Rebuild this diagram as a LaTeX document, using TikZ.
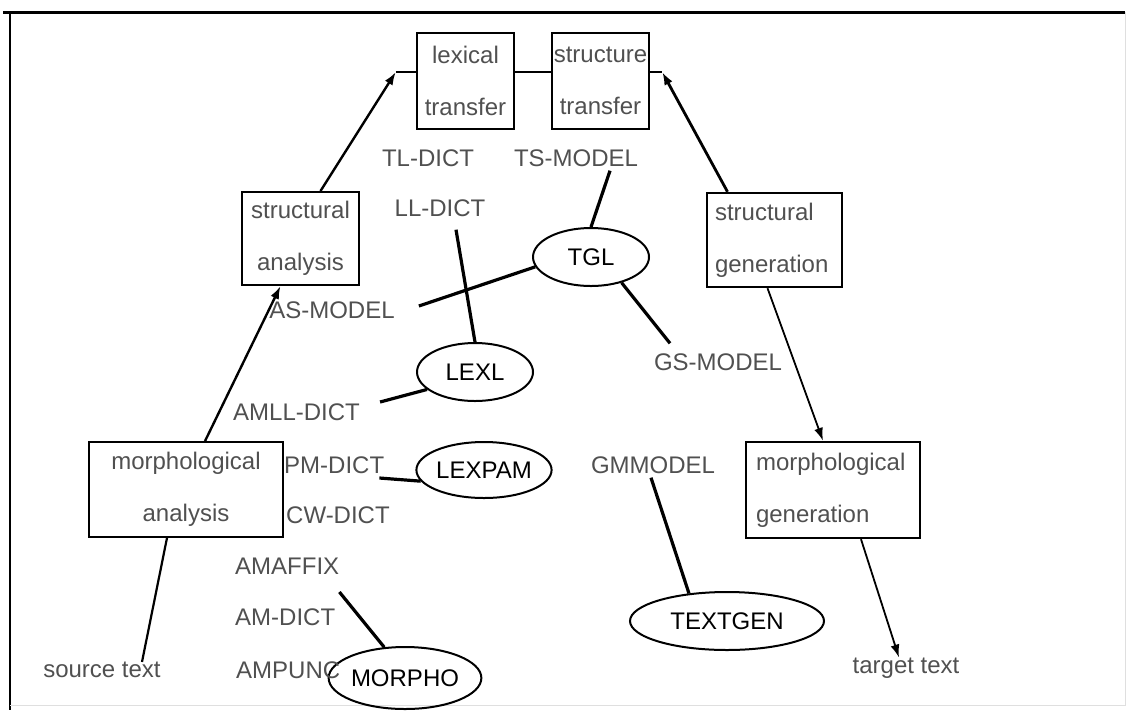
\documentclass[tikz,border=0pt]{standalone}
\usepackage{fontspec}
\setmainfont{Liberation Sans}
\usetikzlibrary{shapes.geometric, arrows.meta}
\definecolor{inkgray}{RGB}{80, 80, 80}
\tikzset{
  procbox/.style={draw, line width=2.4pt, inner sep=0pt, text=inkgray,
    font=\fontsize{24}{52}\selectfont, align=center},
  module/.style={draw, ellipse, line width=2pt, inner sep=0pt,
    font=\fontsize{24}{29}\selectfont},
  resource/.style={text=inkgray, font=\fontsize{24}{29}\selectfont, inner sep=0pt},
  link/.style={line width=3.2pt},
  flow/.style={line width=2.4pt, -{Latex[length=13pt, width=9pt]}}
}

\begin{document}
\begin{tikzpicture}[x=1pt, y=-1pt]
  \useasboundingbox (0, 0) rectangle (1129, 710);
  % frame
  \draw [line width=3pt] (3, 12) -- (1125, 12);
  \draw [line width=2.6pt] (10, 12) -- (10, 710);
  \draw [color=gray!25] (1125, 12) -- (1125, 705) -- (10, 705);

  % processing steps
  \node [procbox, minimum width=97pt, minimum height=96pt] (lex) at (465.5, 81) {lexical\\transfer};
  \node [procbox, minimum width=97pt, minimum height=96pt] (st) at (600.5, 81) {structure\\transfer};
  \node [procbox, line width=2pt, minimum width=117pt, minimum height=93pt] (sana) at (300.5, 238.5) {structural\\analysis};
  \node [procbox, minimum width=135pt, minimum height=94pt, text width=119pt, align=left] (sgen) at (774.5, 240) {structural\\generation};
  \node [procbox, line width=1.8pt, minimum width=194pt, minimum height=95pt] (mana) at (186, 489.5) {morphological\\analysis};
  \node [procbox, minimum width=174pt, minimum height=96pt, text width=154pt, align=left] (mgen) at (833, 490) {morphological\\generation};

  % modules
  \node [module, minimum width=116pt, minimum height=58pt] (tgl) at (591, 257) {TGL};
  \node [module, minimum width=116pt, minimum height=58pt] (lexl) at (475, 372) {LEXL};
  \node [module, minimum width=132pt, minimum height=56pt] (lexpam) at (484, 470) {LEXPAM};
  \node [module, minimum width=130pt, minimum height=62pt] (morpho) at (405, 678) {MORPHO};
  \node [module, minimum width=194pt, minimum height=58pt] (textgen) at (727, 621) {TEXTGEN};

  % dictionaries and models
  \node [resource] (tldict) at (428, 158) {TL-DICT};
  \node [resource] (tsmodel) at (576, 158) {TS-MODEL};
  \node [resource] (lldict) at (440, 208) {LL-DICT};
  \node [resource] (asmodel) at (332, 310) {AS-MODEL};
  \node [resource] (gsmodel) at (718, 362) {GS-MODEL};
  \node [resource, anchor=west] (amlldict) at (233, 412) {AMLL-DICT};
  \node [resource, anchor=west] (pmdict) at (284, 465) {PM-DICT};
  \node [resource] (gmmodel) at (653, 465) {GMMODEL};
  \node [resource, anchor=west] (cwdict) at (286, 515) {CW-DICT};
  \node [resource, anchor=west] (amaffix) at (235, 566) {AMAFFIX};
  \node [resource, anchor=west] (amdict) at (235, 617) {AM-DICT};
  \node [resource, anchor=west] (ampunc) at (236, 670) {AMPUNC};
  \node [resource] (source) at (102, 670) {source text};
  \node [resource] (target) at (906, 668) {target text};

  % main flow
  \coordinate (lexin) at ([xshift=-20pt, yshift=9pt]lex.west);
  \coordinate (stout) at ([xshift=12pt, yshift=9pt]st.east);
  \draw [line width=2.2pt] ([xshift=-19pt]mana.south) -- ([xshift=40pt]source.north);
  \draw [flow] ([xshift=19pt]mana.north) -- ([xshift=-20pt]sana.south);
  \draw [flow] ([xshift=20pt]sana.north) -- (lexin);
  \draw [line width=2.4pt] (lexin) -- ([yshift=9pt]lex.west);
  \draw [line width=2.4pt] ([yshift=9pt]lex.east) -- ([yshift=9pt]st.west);
  \draw [line width=2.4pt] ([yshift=9pt]st.east) -- (stout);
  \draw [flow, line width=2.8pt] ([xshift=-47pt]sgen.north) -- (stout);
  \draw [flow, line width=1.8pt] ([xshift=-7pt]sgen.south) -- ([xshift=-10pt]mgen.north);
  \draw [flow, line width=1.8pt] ([xshift=28pt]mgen.south) -- ([xshift=-7pt]target.north);

  % links to the modules
  \draw [link] ([xshift=34pt, yshift=-4pt]tsmodel.south) -- (tgl.north);
  \draw [link] ([xshift=16pt, yshift=-13pt]lldict.south) -- (lexl.north);
  \draw [link] ([xshift=24pt, yshift=4pt]asmodel.east) -- (tgl.190);
  \draw [link] (tgl.-40) -- ([xshift=-48pt, yshift=10pt]gsmodel.north);
  \draw [link] ([xshift=20pt, yshift=10pt]amlldict.east) -- (lexl.200);
  \draw [link] ([xshift=-5pt, yshift=-13pt]pmdict.east) -- (lexpam.190);
  \draw [link] ([xshift=-2pt, yshift=-4pt]gmmodel.south) -- (textgen.144);
  \draw [link] ([yshift=-26pt]amaffix.east) -- (morpho.124);
\end{tikzpicture}
\end{document}
